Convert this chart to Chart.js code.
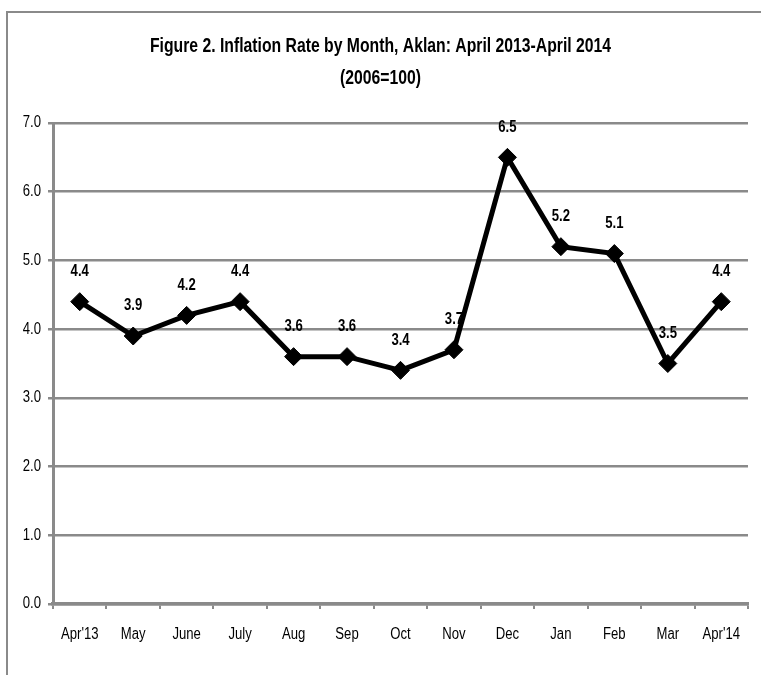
<!DOCTYPE html>
<html>
<head>
<meta charset="utf-8">
<script src="https://cdn.jsdelivr.net/npm/chart.js@4"></script>
<style>
  html, body { margin: 0; padding: 0; background: #fff; }
  #wrap { position: relative; width: 761px; height: 675px; overflow: hidden; }
  #frame { position: absolute; left: 6px; top: 11px; width: 800px; height: 700px;
           border-left: 2px solid #8a8a8a; border-top: 2px solid #8a8a8a; }
  canvas { position: absolute; left: 0; top: 0; }
</style>
</head>
<body>
<div id="wrap">
  <div id="frame"></div>
  <canvas id="chart" width="761" height="675"></canvas>
</div>
<script>
const months = ["Apr'13", 'May', 'June', 'July', 'Aug', 'Sep', 'Oct', 'Nov', 'Dec', 'Jan', 'Feb', 'Mar', "Apr'14"];
const inflation = [4.4, 3.9, 4.2, 4.4, 3.6, 3.6, 3.4, 3.7, 6.5, 5.2, 5.1, 3.5, 4.4];
const titleLines = ['Figure 2. Inflation Rate by Month, Aklan: April 2013-April 2014', '(2006=100)'];

const FONT = "'Liberation Sans', Arial, sans-serif";
const GRID = '#8a8a8a';

// texte étroit simulé (type Arial Narrow) par mise à l'échelle horizontale
function narrowText(ctx, text, x, y, font, align, sx) {
  ctx.save();
  ctx.font = font;
  ctx.fillStyle = '#000';
  ctx.textAlign = align || 'center';
  ctx.textBaseline = 'middle';
  ctx.translate(x, y);
  ctx.scale(sx || 0.82, 1);
  ctx.fillText(text, 0, 0);
  ctx.restore();
}

const narrowLabels = {
  id: 'narrowLabels',
  afterDraw(chart) {
    const ctx = chart.ctx;
    const xs = chart.scales.x, ys = chart.scales.y;
    const cx = chart.width / 2;
    titleLines.forEach((t, i) => narrowText(ctx, t, cx, 46 + i * 32, 'bold 21px ' + FONT, 'center', 0.75));

    ys.ticks.forEach((t, i) => {
      narrowText(ctx, t.value.toFixed(1), ys.right - 12, ys.getPixelForTick(i), '16px ' + FONT, 'right');
    });
    months.forEach((m, i) => {
      narrowText(ctx, m, xs.getPixelForTick(i), xs.top + 31, '16px ' + FONT);
    });

    const meta = chart.getDatasetMeta(0);
    meta.data.forEach((pt, i) => {
      narrowText(ctx, inflation[i].toFixed(1), pt.x, pt.y - 30, 'bold 16px ' + FONT);
    });
  }
};

new Chart(document.getElementById('chart'), {
  type: 'line',
  data: {
    labels: months,
    datasets: [{
      data: inflation,
      borderColor: '#000',
      borderWidth: 5,
      backgroundColor: '#000',
      pointStyle: 'rectRot',
      pointRadius: 9,
      pointBorderWidth: 1,
      pointBorderColor: '#000',
      tension: 0
    }]
  },
  options: {
    responsive: false,
    animation: false,
    layout: { padding: { top: 123, left: 0, right: 13, bottom: 0 } },
    plugins: {
      legend: { display: false },
      tooltip: { enabled: false },
      title: { display: false }
    },
    scales: {
      x: {
        offset: true,
        afterFit: s => { s.height = 71; },
        grid: { offset: true, drawOnChartArea: false, drawTicks: true, tickLength: 5, color: GRID, lineWidth: 2 },
        border: { color: GRID, width: 3.5 },
        ticks: { display: false }
      },
      y: {
        min: 0, max: 7,
        afterFit: s => { s.width = 53; },
        grid: { color: GRID, lineWidth: 2.5, tickLength: 5 },
        border: { color: GRID, width: 3 },
        ticks: { display: false, stepSize: 1 }
      }
    }
  },
  plugins: [narrowLabels]
});
</script>
</body>
</html>
